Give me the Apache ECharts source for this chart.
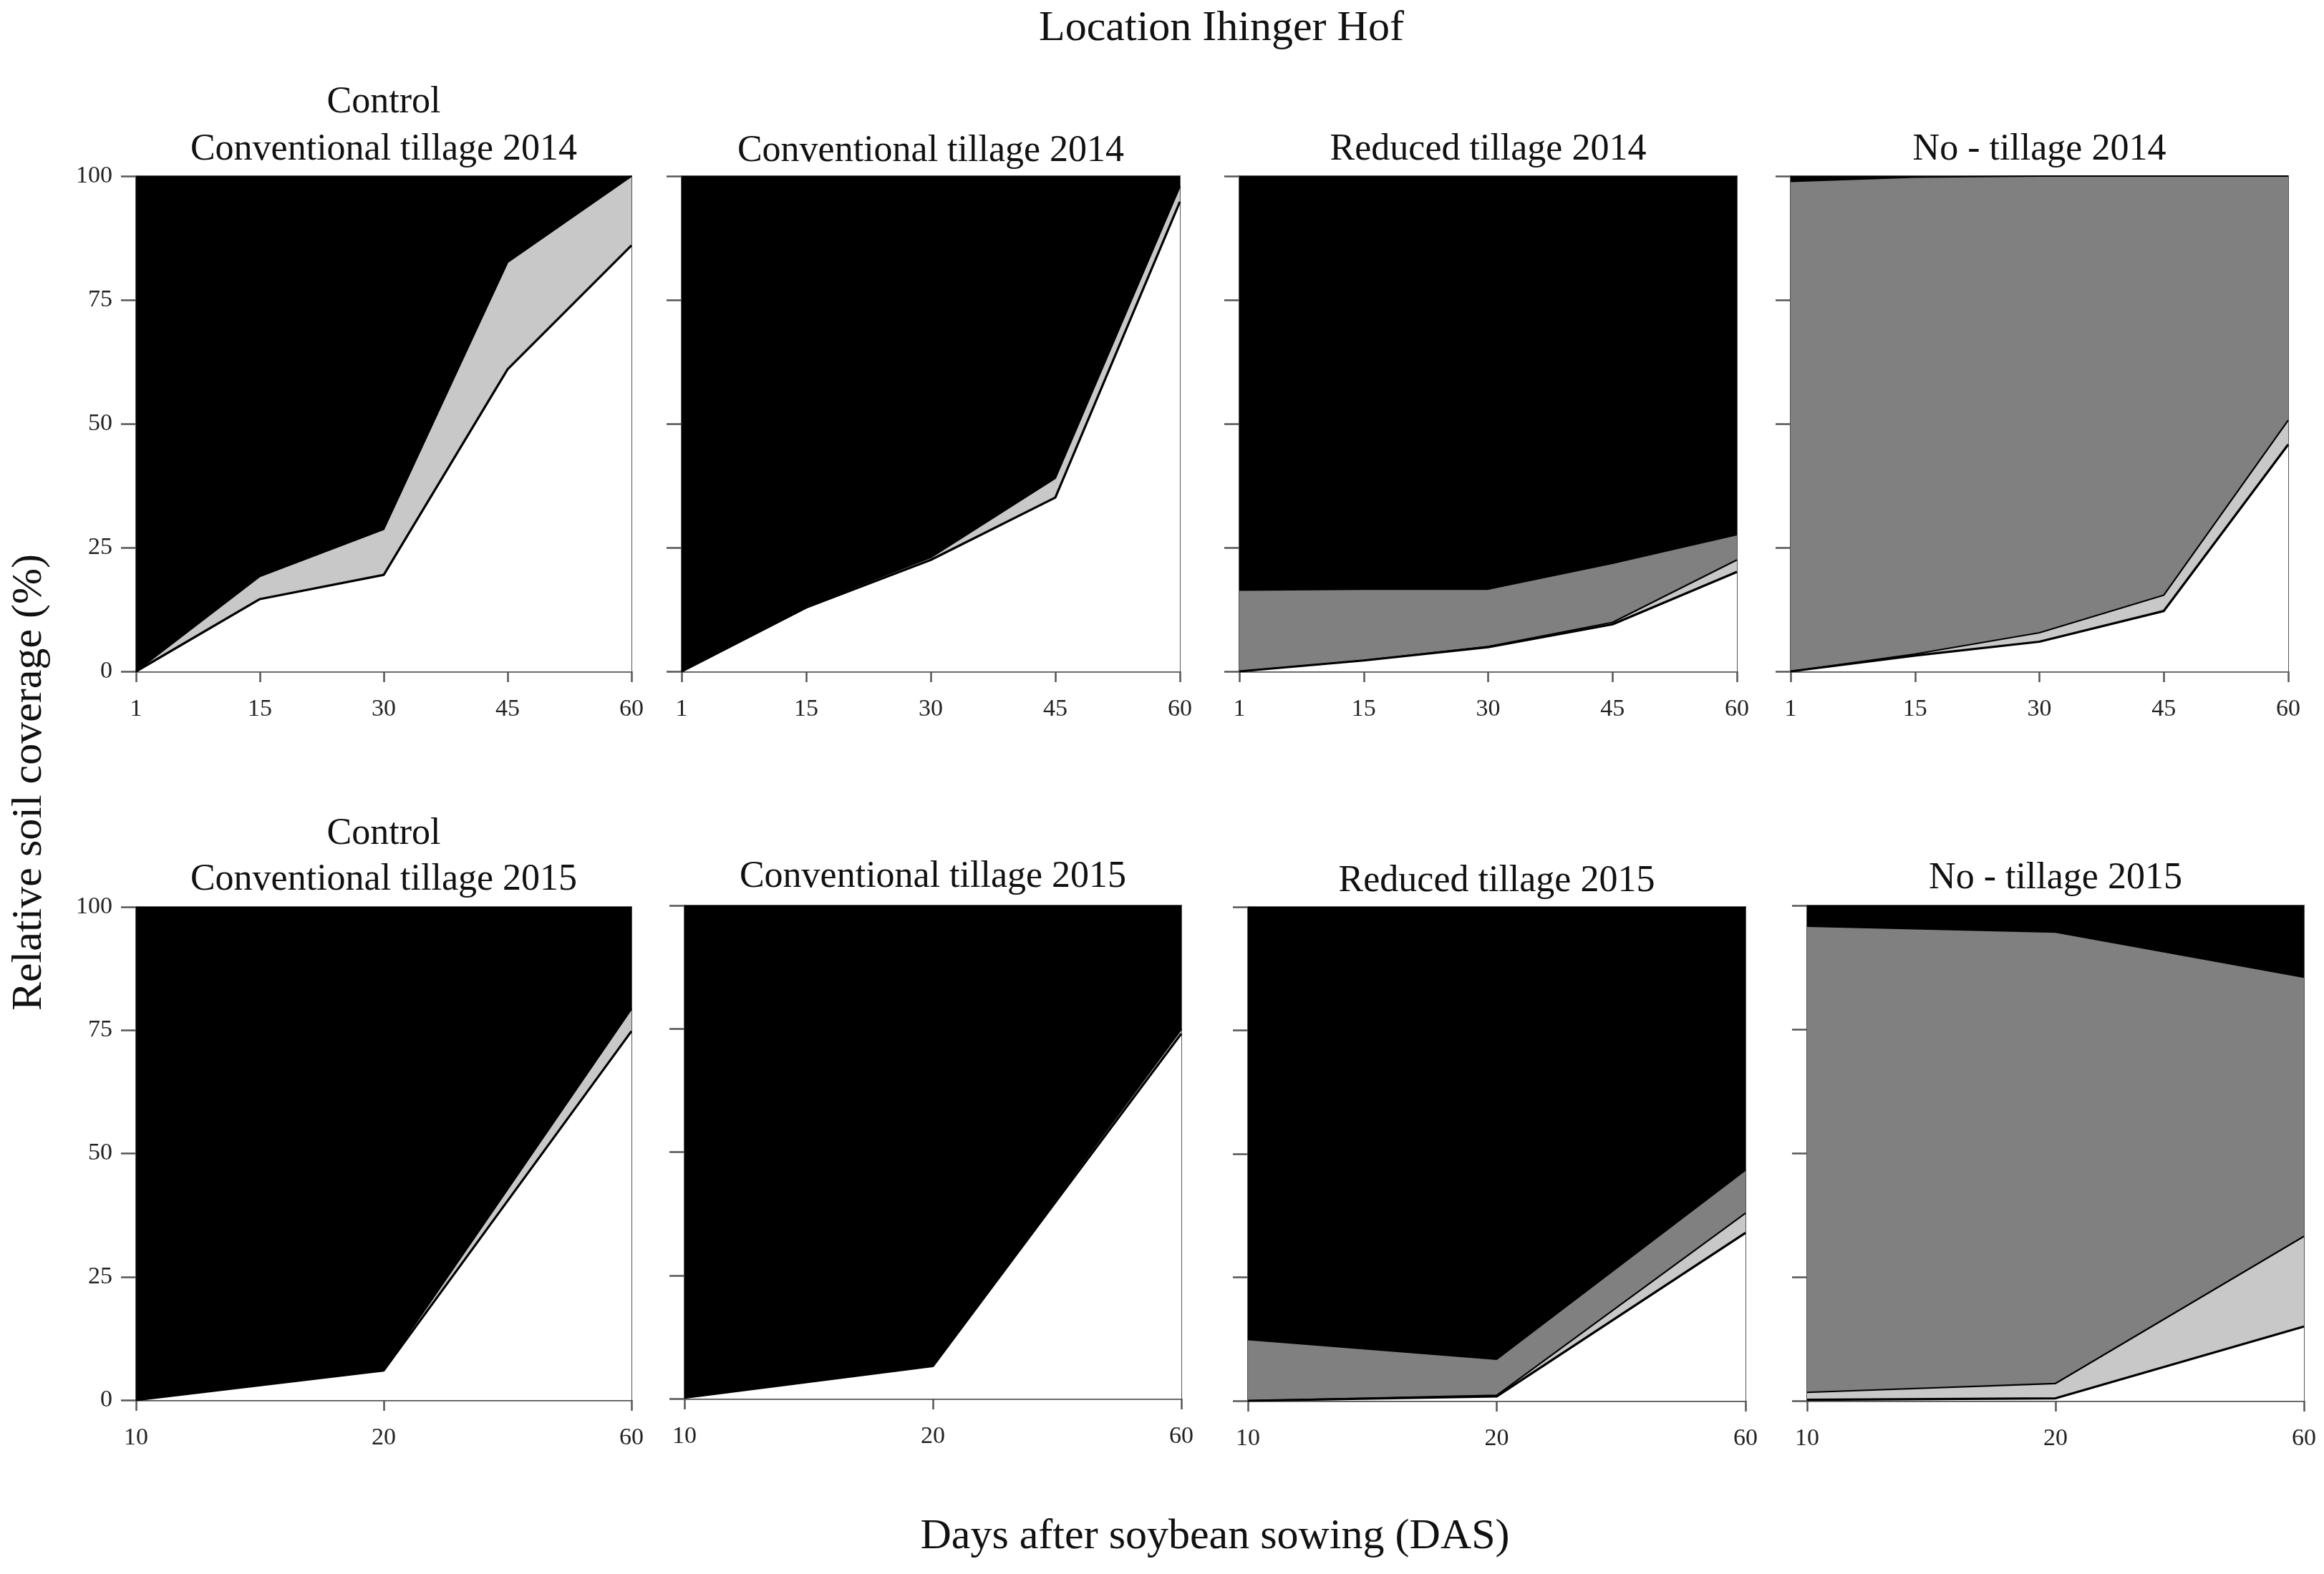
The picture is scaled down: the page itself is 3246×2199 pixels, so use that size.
<!DOCTYPE html>
<html>
<head>
<meta charset="utf-8">
<title>Location Ihinger Hof</title>
<script src="https://cdn.jsdelivr.net/npm/echarts@6/dist/echarts.min.js"></script>
<style>
  html, body { margin: 0; padding: 0; background: #fff; }
  #chart { width: 3246px; height: 2199px; }
</style>
</head>
<body>
<div id="chart"></div>
<script>
  // days after sowing
  const days2014 = ["1", "15", "30", "45", "60"];
  const days2015 = ["10", "20", "60"];
  const yTicks = [0, 25, 50, 75, 100];

  // relative coverage (%), per layer, bottom to top:
  // soybean (white), weeds (light grey), mulch (grey), bare soil (black)
  const ctrl14Soybean = [0, 14.6, 19.5, 61.0, 86.0];
  const ctrl14Weeds   = [0, 4.6, 9.2, 21.6, 14.0];
  const ctrl14Mulch   = [0, 0, 0, 0, 0];
  const ctrl14Soil    = [100, 80.8, 71.3, 17.4, 0];

  const ct14Soybean = [0, 12.9, 22.5, 35.1, 94.8];
  const ct14Weeds   = [0, 0.3, 0.5, 3.9, 3.1];
  const ct14Mulch   = [0, 0, 0, 0, 0];
  const ct14Soil    = [100, 86.8, 77.0, 61.0, 2.1];

  const rt14Soybean = [0, 2.2, 4.9, 9.5, 20.1];
  const rt14Weeds   = [0, 0, 0.1, 0.4, 2.4];
  const rt14Mulch   = [16.4, 14.4, 11.6, 11.9, 5.1];
  const rt14Soil    = [83.6, 83.4, 83.4, 78.2, 72.4];

  const nt14Soybean = [0, 3.2, 6.0, 12.2, 45.8];
  const nt14Weeds   = [0, 0.3, 1.8, 3.2, 4.9];
  const nt14Mulch   = [98.9, 96.3, 92.2, 84.6, 49.3];
  const nt14Soil    = [1.1, 0.2, 0, 0, 0];

  const ctrl15Soybean = [0, 6.0, 74.8];
  const ctrl15Weeds   = [0, 0.2, 4.5];
  const ctrl15Mulch   = [0, 0, 0];
  const ctrl15Soil    = [100, 93.8, 20.7];

  const ct15Soybean = [0.2, 6.6, 74.0];
  const ct15Weeds   = [0, 0.2, 0.9];
  const ct15Mulch   = [0, 0, 0];
  const ct15Soil    = [99.8, 93.2, 25.1];

  const rt15Soybean = [0, 0.9, 34.0];
  const rt15Weeds   = [0, 0.2, 4.0];
  const rt15Mulch   = [12.4, 7.3, 8.7];
  const rt15Soil    = [87.6, 91.6, 53.3];

  const nt15Soybean = [0.2, 0.5, 15.0];
  const nt15Weeds   = [1.5, 3.0, 18.2];
  const nt15Mulch   = [94.1, 91.1, 52.3];
  const nt15Soil    = [4.2, 5.5, 14.7];

  const FONT = '"Liberation Serif", "DejaVu Serif", serif';

  // panel boxes: [left, top, right, bottom]
  const panels = [
    { box: [190, 246, 882, 938],   days: days2014, title: ["Control", "Conventional tillage 2014"], ty: [143, 209],
      layers: [ctrl14Soybean, ctrl14Weeds, ctrl14Mulch, ctrl14Soil] },
    { box: [952, 246, 1648, 938],  days: days2014, title: ["Conventional tillage 2014"], ty: [211],
      layers: [ct14Soybean, ct14Weeds, ct14Mulch, ct14Soil] },
    { box: [1731, 246, 2426, 938], days: days2014, title: ["Reduced tillage 2014"], ty: [209],
      layers: [rt14Soybean, rt14Weeds, rt14Mulch, rt14Soil] },
    { box: [2501, 246, 3196, 938], days: days2014, title: ["No - tillage 2014"], ty: [209],
      layers: [nt14Soybean, nt14Weeds, nt14Mulch, nt14Soil] },
    { box: [190, 1267, 882, 1956], days: days2015, title: ["Control", "Conventional tillage 2015"], ty: [1165, 1229],
      layers: [ctrl15Soybean, ctrl15Weeds, ctrl15Mulch, ctrl15Soil] },
    { box: [956, 1265, 1650, 1954], days: days2015, title: ["Conventional tillage 2015"], ty: [1225],
      layers: [ct15Soybean, ct15Weeds, ct15Mulch, ct15Soil] },
    { box: [1743, 1267, 2438, 1957], days: days2015, title: ["Reduced tillage 2015"], ty: [1231],
      layers: [rt15Soybean, rt15Weeds, rt15Mulch, rt15Soil] },
    { box: [2524, 1265, 3218, 1957], days: days2015, title: ["No - tillage 2015"], ty: [1227],
      layers: [nt15Soybean, nt15Weeds, nt15Mulch, nt15Soil] }
  ];

  const layerNames = ["Soybean", "Weeds", "Mulch", "Bare soil"];
  const layerFill = ["#ffffff", "#c8c8c8", "#808080", "#000000"];
  const layerLine = [3.2, 2.2, 2, 0];

  const grids = [], xAxes = [], yAxes = [], series = [], texts = [];

  panels.forEach((p, i) => {
    const [l, t, r, b] = p.box;
    grids.push({ left: l, top: t, width: r - l, height: b - t, show: true,
      backgroundColor: "#fff", borderColor: "#555", borderWidth: 2 });
    xAxes.push({
      type: "category", gridIndex: i, data: p.days, boundaryGap: false,
      axisLine: { lineStyle: { color: "#555", width: 2.5 } },
      axisTick: { interval: 0, length: 15, lineStyle: { color: "#555", width: 2.5 } },
      axisLabel: { interval: 0, margin: 36, color: "#222", fontSize: 34, fontFamily: FONT },
      splitLine: { show: false }
    });
    yAxes.push({
      type: "value", gridIndex: i, min: 0, max: 100, interval: 25,
      axisLine: { show: true, lineStyle: { color: "#555", width: 2.5 } },
      axisTick: { show: true, length: 21, lineStyle: { color: "#555", width: 2.5 } },
      axisLabel: { show: i % 4 === 0, margin: 33, color: "#222", fontSize: 34, fontFamily: FONT,
        customValues: yTicks },
      splitLine: { show: false }
    });
    p.layers.forEach((vals, k) => {
      series.push({
        name: layerNames[k], type: "line", xAxisIndex: i, yAxisIndex: i,
        stack: "panel" + i, data: vals, symbol: "none", smooth: false,
        z: 10 - k,
        lineStyle: { color: "#000", width: layerLine[k], opacity: layerLine[k] ? 1 : 0 },
        areaStyle: { color: layerFill[k], opacity: 1 },
        silent: true
      });
    });
    const cx = (l + r) / 2;
    p.title.forEach((s, j) => {
      texts.push({ type: "text", x: cx, y: p.ty[j],
        style: { text: s, fontSize: 52, fontFamily: FONT, fill: "#111", align: "center", verticalAlign: "middle" } });
    });
  });

  texts.push({ type: "text", x: 1706, y: 40,
    style: { text: "Location Ihinger Hof", fontSize: 60, fontFamily: FONT, fill: "#111", align: "center", verticalAlign: "middle" } });
  texts.push({ type: "text", x: 1697, y: 2147,
    style: { text: "Days after soybean sowing (DAS)", fontSize: 60, fontFamily: FONT, fill: "#111", align: "center", verticalAlign: "middle" } });
  texts.push({ type: "text", x: 41, y: 1093, rotation: Math.PI / 2,
    style: { text: "Relative soil coverage (%)", fontSize: 60, fontFamily: FONT, fill: "#111", align: "center", verticalAlign: "middle" } });

  const chart = echarts.init(document.getElementById("chart"), null, { renderer: "canvas" });
  chart.setOption({
    animation: false,
    backgroundColor: "#fff",
    grid: grids,
    xAxis: xAxes,
    yAxis: yAxes,
    series: series,
    graphic: texts
  });
  window.addEventListener("resize", () => chart.resize());
</script>
</body>
</html>
